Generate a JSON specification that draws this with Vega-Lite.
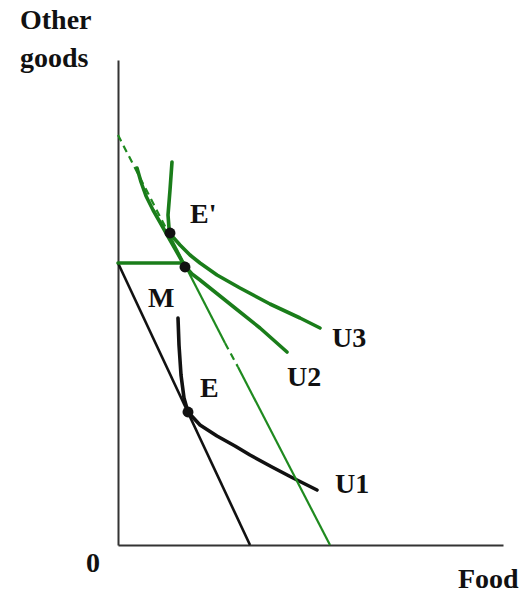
{
  "$schema": "https://vega.github.io/schema/vega-lite/v6.json",
  "width": 385,
  "height": 485,
  "autosize": "none",
  "padding": {"left": 118, "top": 60, "right": 24, "bottom": 49},
  "background": "white",
  "config": {
    "view": {"stroke": null},
    "axis": {"grid": false, "ticks": false, "labels": false, "title": null, "domainColor": "#333333", "domainWidth": 2}
  },
  "datasets": {
    "curves": [
      {"s": "budget_old", "o": 1, "x": 0, "y": 282},
      {"s": "budget_old", "o": 2, "x": 132, "y": 0},
      {"s": "U1", "o": 1, "x": 60, "y": 227},
      {"s": "U1", "o": 2, "x": 61, "y": 200},
      {"s": "U1", "o": 3, "x": 63, "y": 170},
      {"s": "U1", "o": 4, "x": 66, "y": 147},
      {"s": "U1", "o": 5, "x": 70, "y": 133},
      {"s": "U1", "o": 6, "x": 82, "y": 120},
      {"s": "U1", "o": 7, "x": 99, "y": 109},
      {"s": "U1", "o": 8, "x": 117, "y": 99},
      {"s": "U1", "o": 9, "x": 132, "y": 90},
      {"s": "U1", "o": 10, "x": 154, "y": 78},
      {"s": "U1", "o": 11, "x": 175, "y": 67},
      {"s": "U1", "o": 12, "x": 199, "y": 55},
      {"s": "stamp_flat", "o": 1, "x": 0, "y": 282},
      {"s": "stamp_flat", "o": 2, "x": 66, "y": 282},
      {"s": "cash_solid_a", "o": 1, "x": 52, "y": 309},
      {"s": "cash_solid_a", "o": 2, "x": 107, "y": 202},
      {"s": "cash_solid_b", "o": 1, "x": 120, "y": 178},
      {"s": "cash_solid_b", "o": 2, "x": 212, "y": 0},
      {"s": "U2", "o": 1, "x": 19, "y": 377},
      {"s": "U2", "o": 2, "x": 23, "y": 363},
      {"s": "U2", "o": 3, "x": 28, "y": 349},
      {"s": "U2", "o": 4, "x": 35, "y": 335},
      {"s": "U2", "o": 5, "x": 43, "y": 321},
      {"s": "U2", "o": 6, "x": 52, "y": 305},
      {"s": "U2", "o": 7, "x": 60, "y": 291},
      {"s": "U2", "o": 8, "x": 66, "y": 280},
      {"s": "U2", "o": 9, "x": 74, "y": 271},
      {"s": "U2", "o": 10, "x": 82, "y": 265},
      {"s": "U2", "o": 11, "x": 97, "y": 253},
      {"s": "U2", "o": 12, "x": 117, "y": 237},
      {"s": "U2", "o": 13, "x": 142, "y": 217},
      {"s": "U2", "o": 14, "x": 169, "y": 193},
      {"s": "U3", "o": 1, "x": 54, "y": 383},
      {"s": "U3", "o": 2, "x": 52, "y": 355},
      {"s": "U3", "o": 3, "x": 50, "y": 330},
      {"s": "U3", "o": 4, "x": 51, "y": 317},
      {"s": "U3", "o": 5, "x": 54, "y": 309},
      {"s": "U3", "o": 6, "x": 62, "y": 300},
      {"s": "U3", "o": 7, "x": 72, "y": 290},
      {"s": "U3", "o": 8, "x": 82, "y": 282},
      {"s": "U3", "o": 9, "x": 99, "y": 270},
      {"s": "U3", "o": 10, "x": 122, "y": 257},
      {"s": "U3", "o": 11, "x": 152, "y": 241},
      {"s": "U3", "o": 12, "x": 182, "y": 227},
      {"s": "U3", "o": 13, "x": 202, "y": 217}
    ],
    "dashed": [
      {"s": "cash_dash_a", "o": 1, "x": 0, "y": 410},
      {"s": "cash_dash_a", "o": 2, "x": 52, "y": 309},
      {"s": "cash_dash_b", "o": 1, "x": 107, "y": 202},
      {"s": "cash_dash_b", "o": 2, "x": 120, "y": 178}
    ],
    "points": [
      {"p": "E'", "x": 52, "y": 312},
      {"p": "kink", "x": 67, "y": 278},
      {"p": "E", "x": 70, "y": 133}
    ],
    "labels": [
      {"t": "E'", "x": 72, "y": 322},
      {"t": "M", "x": 30, "y": 238},
      {"t": "E", "x": 82, "y": 148},
      {"t": "U3", "x": 214, "y": 198},
      {"t": "U2", "x": 169, "y": 159},
      {"t": "U1", "x": 217, "y": 52},
      {"t": "Food", "x": 340, "y": -43},
      {"t": "Other", "x": -98, "y": 516},
      {"t": "goods", "x": -98, "y": 478}
    ],
    "origin": [
      {"t": "0", "x": -25, "y": -27}
    ]
  },
  "encoding": {
    "x": {"field": "x", "type": "quantitative", "scale": {"domain": [0, 385], "nice": false, "zero": false}, "axis": {"orient": "bottom", "offset": 0}},
    "y": {"field": "y", "type": "quantitative", "scale": {"domain": [0, 485], "nice": false, "zero": false}, "axis": {"orient": "left", "offset": 0}}
  },
  "layer": [
    {
      "data": {"name": "curves"},
      "transform": [{"filter": "datum.s === 'budget_old'"}],
      "mark": {"type": "line", "color": "#111111", "strokeWidth": 2.6},
      "encoding": {"detail": {"field": "s"}, "order": {"field": "o"}}
    },
    {
      "data": {"name": "curves"},
      "transform": [{"filter": "datum.s === 'U1'"}],
      "mark": {"type": "line", "color": "#111111", "strokeWidth": 3.6, "strokeJoin": "round", "strokeCap": "round"},
      "encoding": {"detail": {"field": "s"}, "order": {"field": "o"}}
    },
    {
      "data": {"name": "curves"},
      "transform": [{"filter": "datum.s === 'cash_solid_a' || datum.s === 'cash_solid_b'"}],
      "mark": {"type": "line", "color": "#1f8a1f", "strokeWidth": 2.2},
      "encoding": {"detail": {"field": "s"}, "order": {"field": "o"}}
    },
    {
      "data": {"name": "dashed"},
      "mark": {"type": "line", "color": "#1f8a1f", "strokeWidth": 2.2, "strokeDash": [7, 5]},
      "encoding": {"detail": {"field": "s"}, "order": {"field": "o"}}
    },
    {
      "data": {"name": "curves"},
      "transform": [{"filter": "datum.s === 'stamp_flat' || datum.s === 'U2' || datum.s === 'U3'"}],
      "mark": {"type": "line", "color": "#1a7d1a", "strokeWidth": 3.6, "strokeJoin": "round", "strokeCap": "round"},
      "encoding": {"detail": {"field": "s"}, "order": {"field": "o"}}
    },
    {
      "data": {"name": "points"},
      "mark": {"type": "point", "shape": "circle", "filled": true, "color": "#111111", "size": 120, "opacity": 1}
    },
    {
      "data": {"name": "labels"},
      "mark": {"type": "text", "align": "left", "baseline": "alphabetic", "font": "Liberation Serif", "fontWeight": "bold", "fontSize": 28, "color": "#111111"},
      "encoding": {"text": {"field": "t"}}
    },
    {
      "data": {"name": "origin"},
      "mark": {"type": "text", "align": "center", "baseline": "alphabetic", "font": "Liberation Serif", "fontWeight": "bold", "fontSize": 28, "color": "#111111"},
      "encoding": {"text": {"field": "t"}}
    }
  ]
}
